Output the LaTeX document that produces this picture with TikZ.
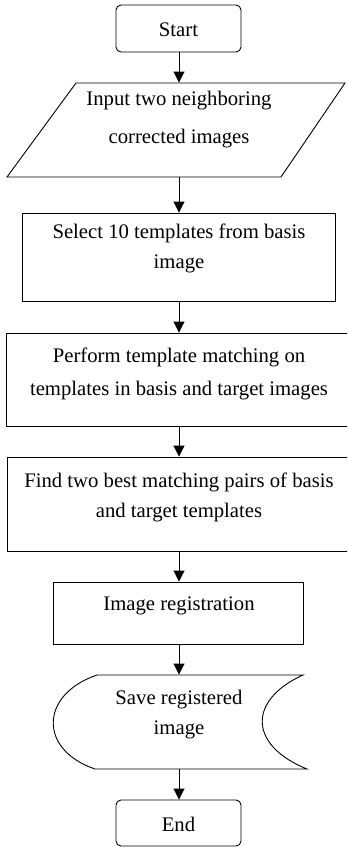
\documentclass[tikz,border=0pt]{standalone}
\usepackage{fontspec}
\setmainfont{Liberation Serif}
\usetikzlibrary{arrows.meta}
\begin{document}
\begin{tikzpicture}[x=1bp,y=-1bp,
  line width=0.9bp,
  shapebox/.style={draw, rectangle, inner sep=0pt, minimum width=#1},
  ghost/.style={rectangle, inner sep=0pt, minimum width=#1},
  term/.style={draw, rectangle, rounded corners=5bp, inner sep=0pt, minimum width=125bp, minimum height=47bp},
  txt/.style={align=center, inner sep=0pt, font=\fontsize{20.7bp}{#1}\selectfont},
  txt/.default={30bp},
  flow/.style={-{Triangle[width=11bp,length=11bp]}}
]
\useasboundingbox (0,0) rectangle (347,847);
\clip (0,0) rectangle (347,847);

% Start
\node[term] (start) at (178.5,28.5) {};
\node[txt] (startt) at (178.5,29.5) {Start};

% Input parallelogram
\node[ghost=200bp, minimum height=94bp] (input) at (179,130) {};
\draw (76,83) -- (345,83) -- (281,177) -- (7,177) -- cycle;
\node[txt=38bp] (inputt) at (179,120) {Input two neighboring\\corrected images};

% Select
\node[shapebox=313bp, minimum height=88bp] (sel) at (178.5,257) {};
\node[txt] (selt) at (179,248) {Select 10 templates from basis\\image};

% Perform
\node[shapebox=346bp, minimum height=93bp] (perf) at (179,379.5) {};
\node[txt=33bp] (perft) at (179,373.5) {Perform template matching on\\templates in basis and target images};

% Find
\node[shapebox=344bp, minimum height=94bp] (find) at (179,504) {};
\node[txt] (findt) at (179,497) {Find two best matching pairs of basis\\and target templates};

% Registration
\node[shapebox=250bp, minimum height=62bp] (reg) at (178,613) {};
\node[txt] (regt) at (179,606) {Image registration};

% Save
\node[ghost=200bp, minimum height=94bp] (save) at (179,722) {};
\draw (97,675) -- (303,675) .. controls (248,700) and (248,745) .. (307,769)
      -- (95,769) .. controls (39,750) and (39,695) .. (97,675) -- cycle;
\node[txt] (savet) at (179,715) {Save registered\\image};

% End
\node[term, minimum height=46bp] (end) at (178.5,823) {};
\node[txt] (endt) at (178.5,824.5) {End};

% Connectors
\draw[flow] (start.south -| input.north) -- (input.north);
\draw[flow] (input.south) -- (input.south |- sel.north);
\draw[flow] (sel.south -| input.south) -- (input.south |- perf.north);
\draw[flow] (perf.south) -- (find.north);
\draw[flow] (find.south) -- (find.south |- reg.north);
\draw[flow] (reg.south -| find.south) -- (save.north);
\draw[flow] (save.south) -- (save.south |- end.north);
\end{tikzpicture}
\end{document}
